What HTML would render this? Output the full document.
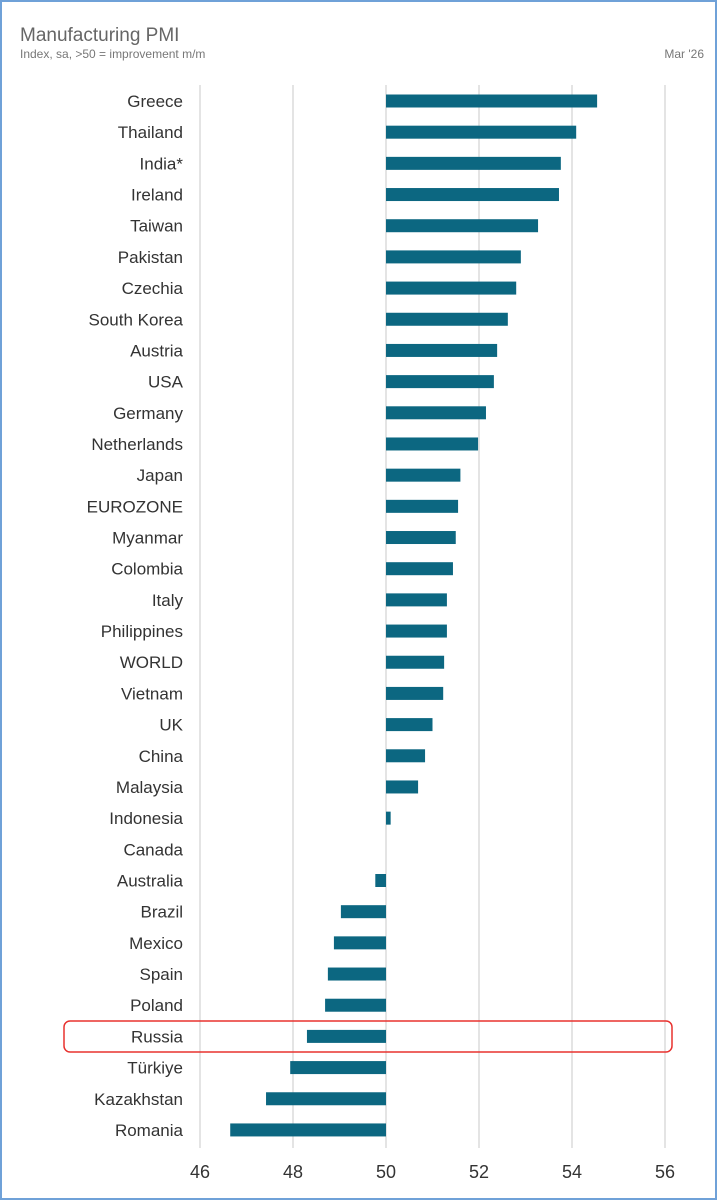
<!DOCTYPE html>
<html><head><meta charset="utf-8"><style>
html,body{margin:0;padding:0;background:#fff}
#wrap{position:relative;width:717px;height:1200px;box-sizing:border-box;border:2px solid #6fa1d8;background:#fff;overflow:hidden}
svg{position:absolute;left:-2px;top:-2px}
text{font-family:"Liberation Sans",sans-serif}
</style></head><body>
<div id="wrap">
<svg id="chart" width="717" height="1200">
<text x="20" y="41" font-size="19" fill="#666">Manufacturing PMI</text>
<text x="20" y="58" font-size="12" fill="#777">Index, sa, &gt;50 = improvement m/m</text>
<text x="704" y="58" font-size="12" fill="#777" text-anchor="end">Mar '26</text>
<g id="grid"></g><g id="bars"></g><g id="labels"></g><g id="ticks"></g>
<rect x="64" y="1021" width="608" height="31" rx="6" fill="none" stroke="#e8322f" stroke-width="1.5"/>
</svg>
</div>
<script>
const countries=["Greece","Thailand","India*","Ireland","Taiwan","Pakistan","Czechia","South Korea","Austria","USA","Germany","Netherlands","Japan","EUROZONE","Myanmar","Colombia","Italy","Philippines","WORLD","Vietnam","UK","China","Malaysia","Indonesia","Canada","Australia","Brazil","Mexico","Spain","Poland","Russia","Türkiye","Kazakhstan","Romania"];
const values=[54.54,54.09,53.76,53.72,53.27,52.9,52.8,52.62,52.39,52.32,52.15,51.98,51.6,51.55,51.5,51.44,51.31,51.31,51.25,51.23,51.0,50.84,50.69,50.1,50.0,49.77,49.03,48.88,48.75,48.69,48.3,47.94,47.42,46.65];
const ticks=[46,48,50,52,54,56];
const NS="http://www.w3.org/2000/svg";
const x=v=>200+(v-46)*46.5;
const y=i=>101+i*31.18;
function mk(t,a,p){const e=document.createElementNS(NS,t);for(const k in a)e.setAttribute(k,a[k]);p.appendChild(e);return e;}
const G=document.getElementById('grid'),B=document.getElementById('bars'),L=document.getElementById('labels'),T=document.getElementById('ticks');
ticks.forEach(t=>{
 const l=mk('line',{x1:x(t),x2:x(t),y1:85,y2:1148,stroke:'#dcdcdc','stroke-width':1.5},G);
 
 
 const tx=mk('text',{x:x(t),y:1178,'font-size':18,fill:'#333','text-anchor':'middle'},T);
 tx.textContent=t;
 
 
});
countries.forEach((c,i)=>{
 const v=values[i];
 const x0=Math.min(x(v),x(50)),w=Math.abs(x(v)-x(50));
 if(w>0.3){
  const r=mk('rect',{x:x0,y:y(i)-6.5,width:w,height:13,fill:'#0c6781'},B);
  
  
 }
 const t=mk('text',{x:183,y:y(i)+6,'font-size':17,fill:'#333','text-anchor':'end'},L);
 t.textContent=c;
 
 
});
</script>
</body></html>
